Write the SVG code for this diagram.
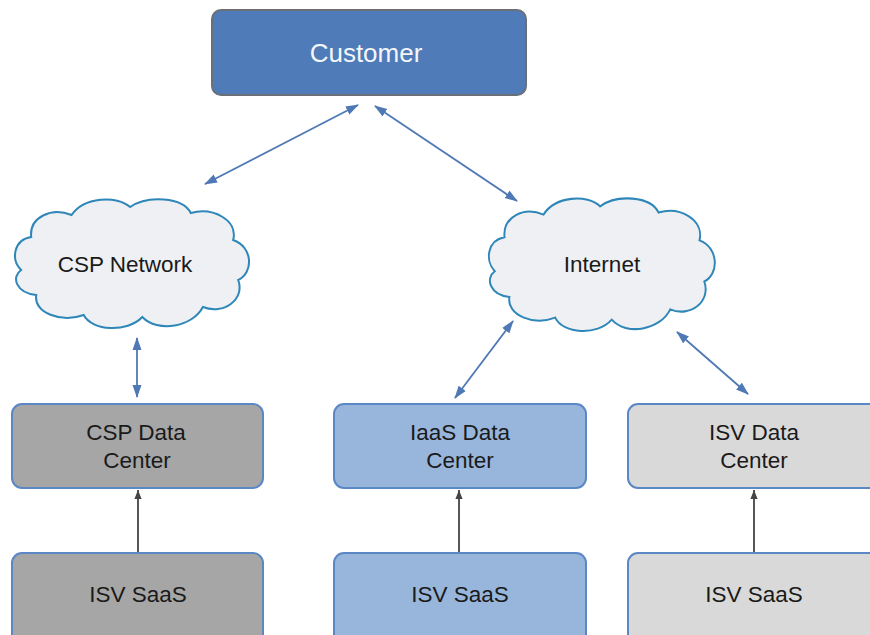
<svg xmlns="http://www.w3.org/2000/svg" width="870" height="635" viewBox="0 0 870 635">
<defs>
<style>
.lbl{font-family:"Liberation Sans",Arial,sans-serif;font-size:22.5px;fill:#1a1a1a;text-anchor:middle}
.box{stroke:#5b87c5;stroke-width:2}
.cloud{fill:#eef0f3;stroke:#2e86b9;stroke-width:2}
.blue{stroke:#4f79b5;stroke-width:1.8;fill:none;marker-start:url(#ab);marker-end:url(#ab)}
.dark{stroke:#444;stroke-width:1.8;fill:none;marker-end:url(#ad)}
</style>
<marker id="ab" viewBox="0 0 13 10" refX="12" refY="5" markerWidth="13" markerHeight="10" markerUnits="userSpaceOnUse" orient="auto-start-reverse"><path d="M0,0.5 L13,5 L0,9.5 Z" fill="#4f79b5"/></marker>
<marker id="ad" viewBox="0 0 10 10" refX="10" refY="5" markerWidth="9" markerHeight="10" markerUnits="userSpaceOnUse" orient="auto"><path d="M0,1 L10,5 L0,9 Z" fill="#444"/></marker>
<path id="cl" d="M 10,75 C 0,65 2,45 20,42 C 18,22 40,12 60,20 C 72,2 105,0 118,12 C 135,0 170,2 178,18 C 200,12 225,25 220,45 C 240,52 240,78 225,85 C 232,105 210,120 190,112 C 180,132 145,138 130,122 C 115,138 80,136 72,120 C 50,128 22,118 25,100 C 5,98 0,82 10,75 Z"/>
</defs>
<rect width="870" height="635" fill="#fff"/>
<g id="connectors">
<line class="blue" x1="358" y1="105" x2="205" y2="184"/>
<line class="blue" x1="375" y1="106" x2="517" y2="201"/>
<line class="blue" x1="137" y1="338" x2="137" y2="397"/>
<line class="blue" x1="513" y1="321" x2="455" y2="398"/>
<line class="blue" x1="677" y1="332" x2="748" y2="394"/>
<line class="dark" x1="138" y1="553" x2="138" y2="490"/>
<line class="dark" x1="459" y1="553" x2="459" y2="490"/>
<line class="dark" x1="754" y1="553" x2="754" y2="490"/>
</g>
<g id="customer">
<rect x="212" y="10" width="314" height="85" rx="9" fill="#4f7bb8" stroke="#6b6f78" stroke-width="2"/>
<text x="366" y="62" class="lbl" style="font-size:26px;fill:#f4f6fa">Customer</text>
</g>
<g id="csp-network">
<use href="#cl" class="cloud" transform="translate(11,195) scale(1.01,1)"/>
<text x="125" y="272" class="lbl">CSP Network</text>
</g>
<g id="internet">
<use href="#cl" class="cloud" transform="translate(485,194) scale(0.975,1.03)"/>
<text x="602" y="272" class="lbl">Internet</text>
</g>
<g id="csp-dc">
<rect class="box" x="12" y="404" width="251" height="84" rx="10" fill="#a6a6a6"/>
<text x="136" y="440" class="lbl">CSP Data</text>
<text x="137" y="468" class="lbl">Center</text>
</g>
<g id="iaas-dc">
<rect class="box" x="334" y="404" width="252" height="84" rx="10" fill="#98b6dc"/>
<text x="460" y="440" class="lbl">IaaS Data</text>
<text x="460" y="468" class="lbl">Center</text>
</g>
<g id="isv-dc">
<rect class="box" x="628" y="404" width="252" height="84" rx="10" fill="#d9d9d9"/>
<text x="754" y="440" class="lbl">ISV Data</text>
<text x="754" y="468" class="lbl">Center</text>
</g>
<g id="csp-saas">
<rect class="box" x="12" y="553" width="251" height="100" rx="10" fill="#a6a6a6"/>
<text x="138" y="602" class="lbl">ISV SaaS</text>
</g>
<g id="iaas-saas">
<rect class="box" x="334" y="553" width="252" height="100" rx="10" fill="#98b6dc"/>
<text x="460" y="602" class="lbl">ISV SaaS</text>
</g>
<g id="isv-saas">
<rect class="box" x="628" y="553" width="252" height="100" rx="10" fill="#d9d9d9"/>
<text x="754" y="602" class="lbl">ISV SaaS</text>
</g>
</svg>
